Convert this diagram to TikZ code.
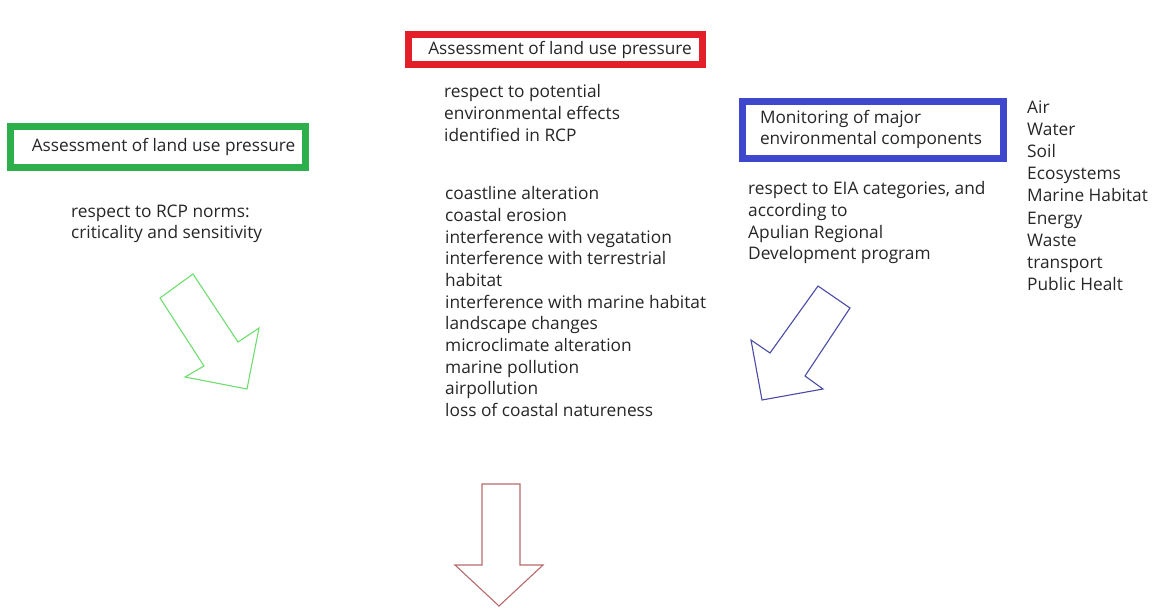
\documentclass[tikz,border=0pt]{standalone}
\usepackage{fontspec}
\setmainfont{Open Sans}
\definecolor{txt}{HTML}{262626}
\definecolor{boxred}{HTML}{E3202A}
\definecolor{boxgreen}{HTML}{2DB04B}
\definecolor{boxblue}{HTML}{3F48CC}
\definecolor{arrgreen}{HTML}{6FDD6F}
\definecolor{arrblue}{HTML}{4A4AA8}
\definecolor{arrred}{HTML}{B86A6A}
\begin{document}
\begin{tikzpicture}[x=1pt,y=-1pt,
  titlebox/.style={draw, line width=7pt, inner sep=0pt, text=txt,
    font=\fontsize{17.2}{21.7}\selectfont},
  bodytext/.style={anchor=north west, inner sep=0pt, align=left, text=txt,
    font=\fontsize{17.3}{21.7}\selectfont},
  blockarrow/.style={line width=1.1pt, line join=miter, fill=white}]
\useasboundingbox[fill=white] (0,0) rectangle (1160,608);

% title boxes
\node[titlebox, draw=boxgreen, minimum width=295pt, minimum height=41pt]
  (gbox) at (158,147) {\hspace*{11pt}Assessment of land use pressure};
\node[titlebox, draw=boxred, minimum width=294pt, minimum height=30pt]
  (rbox) at (555.5,49.5) {\hspace*{9pt}Assessment of land use pressure};
\node[titlebox, draw=boxblue, minimum width=261pt, minimum height=57pt, align=left]
  (bbox) at (872.5,129.5) {Monitoring of major\\environmental components\hspace*{3pt}};

% texts
\node[bodytext, font=\fontsize{17.3}{21.3}\selectfont] (gsub) at (71,202.3)
  {\strut respect to RCP norms:\\criticality and sensitivity};
\node[bodytext] (rsub) at (444,82.3)
  {\strut respect to potential\\environmental effects\\identified in RCP};
\node[bodytext] (rlist) at (445,184.3)
  {\strut coastline alteration\\coastal erosion\\interference with vegatation\\interference with terrestrial\\habitat\\interference with marine habitat\\landscape changes\\microclimate alteration\\marine pollution\\airpollution\\loss of coastal natureness};
\node[bodytext] (bsub) at (748,179.3)
  {\strut respect to EIA categories, and\\according to\\Apulian Regional\\Development program};
\node[bodytext, font=\fontsize{17.3}{22.2}\selectfont] (blist) at (1027,97.3)
  {\strut Air\\Water\\Soil\\Ecosystems\\Marine Habitat\\Energy\\Waste\\transport\\Public Healt};

% block arrows
\draw[blockarrow, draw=arrgreen] (160,298) -- (193,274) -- (238,342) -- (259,328)
  -- (247,389) -- (185,377) -- (204,366) -- cycle;
\draw[blockarrow, draw=arrblue] (818,286) -- (850,308) -- (805,376) -- (823,389)
  -- (762,400) -- (751,340) -- (770,353) -- cycle;
\draw[blockarrow, draw=arrred] (482,484) -- (520,484) -- (520,565) -- (543,565)
  -- (499,606) -- (455,565) -- (482,565) -- cycle;
\end{tikzpicture}
\end{document}
